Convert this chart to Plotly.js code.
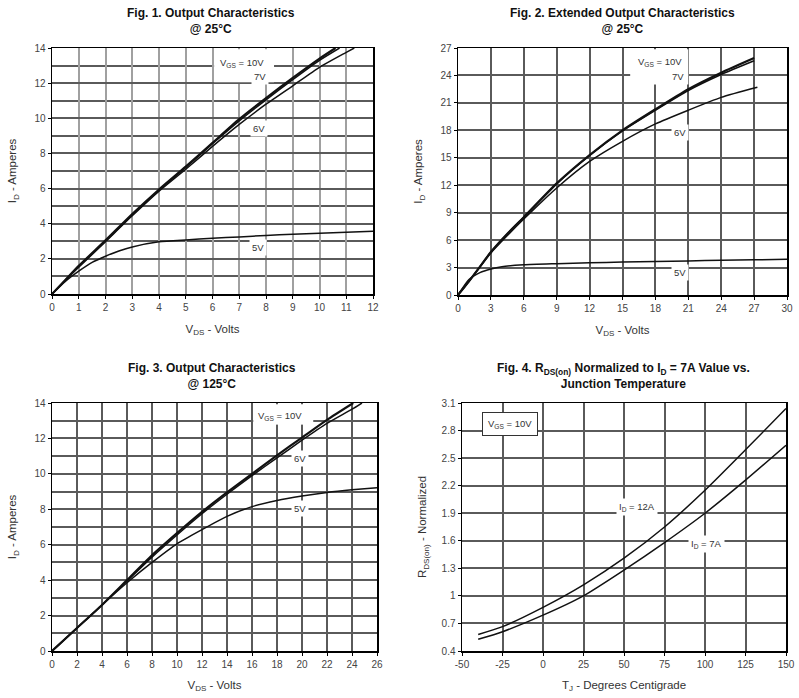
<!DOCTYPE html>
<html>
<head>
<meta charset="utf-8">
<script src="https://cdn.plot.ly/plotly-3.0.1.min.js"></script>
<style>html,body{margin:0;padding:0;background:#fff}#chart{width:799px;height:698px}</style>
</head>
<body>
<div id="chart"></div>
<script>
// ---------- Data ----------
// Fig 1: Output characteristics @25C (VDS 0..12 V)
const f1_vds_10V = [0,0.5,1,2,3,4,5,6,7,8,9,10,10.6];
const f1_id_10V  = [0,0.8,1.6,3.05,4.55,5.95,7.25,8.6,9.95,11.15,12.3,13.4,14];
const f1_vds_7V  = [0,0.5,1,2,3,4,5,6,7,8,9,10,10.75];
const f1_id_7V   = [0,0.8,1.58,3.02,4.5,5.9,7.2,8.55,9.85,11.05,12.2,13.3,14];
const f1_vds_6V  = [0,0.5,1,2,3,4,5,6,7,8,9,10,11,11.3];
const f1_id_6V   = [0,0.78,1.52,2.98,4.45,5.85,7.1,8.4,9.65,10.8,11.85,12.9,13.75,14];
const f1_vds_5V  = [0,0.5,1,1.5,2,2.5,3,4,5,6,7,8,9,10,11,12];
const f1_id_5V   = [0,0.72,1.3,1.8,2.15,2.45,2.68,2.97,3.08,3.17,3.25,3.33,3.4,3.46,3.52,3.57];

// Fig 2: Extended output characteristics @25C (VDS 0..30 V)
const f2_vds_10V = [0,1,2,3,4.5,6,9,12,15,18,21,24,27];
const f2_id_10V  = [0,1.5,3.1,4.7,6.7,8.5,12.2,15.3,18.0,20.3,22.5,24.3,25.9];
const f2_vds_7V  = [0,1,2,3,4.5,6,9,12,15,18,21,24,27];
const f2_id_7V   = [0,1.5,3.1,4.7,6.7,8.5,12.15,15.25,17.95,20.2,22.35,24.1,25.6];
const f2_vds_6V  = [0,1,2,3,4.5,6,9,12,15,18,21,24,27.3];
const f2_id_6V   = [0,1.5,3.05,4.6,6.5,8.3,11.7,14.6,16.8,18.7,20.2,21.6,22.7];
const f2_vds_5V  = [0,1,2,3,4,6,9,12,15,18,21,24,27,30];
const f2_id_5V   = [0,1.7,2.45,2.85,3.1,3.3,3.42,3.52,3.6,3.67,3.73,3.8,3.85,3.9];

// Fig 3: Output characteristics @125C (VDS 0..26 V)
const f3_vds_10V = [0,2,4,6,8,10,12,14,16,18,20,22,24.1];
const f3_id_10V  = [0,1.3,2.6,4.0,5.4,6.65,7.85,8.95,10.0,11.05,12.05,13.05,14];
const f3_vds_6V  = [0,2,4,6,8,10,12,14,16,18,20,22,24,24.8];
const f3_id_6V   = [0,1.3,2.6,3.95,5.3,6.55,7.75,8.85,9.9,10.9,11.9,12.85,13.65,14];
const f3_vds_5V  = [0,2,4,6,8,10,12,14,16,18,20,22,24,26];
const f3_id_5V   = [0,1.3,2.6,3.85,5.0,6.05,6.85,7.6,8.15,8.5,8.75,8.95,9.1,9.22];

// Fig 4: RDS(on) normalized vs junction temperature
const f4_tj      = [-40,-25,0,25,50,75,100,125,150];
const f4_r_12A   = [0.58,0.665,0.875,1.12,1.41,1.75,2.15,2.59,3.04];
const f4_r_7A    = [0.527,0.61,0.79,1.0,1.28,1.58,1.9,2.26,2.64];

// Tick labels for Fig 4 x axis (plain hyphen minus, as in the reference)
const f4_tick_vals = [-50,-25,0,25,50,75,100,125,150];
const f4_tick_text = ['-50','-25','0','25','50','75','100','125','150'];

// Labels
const titles = [
  'Fig. 1. Output Characteristics<br>@ 25°C',
  'Fig. 2. Extended Output Characteristics<br>@ 25°C',
  'Fig. 3. Output Characteristics<br>@ 125°C',
  'Fig. 4. R<sub>DS(on)</sub> Normalized to I<sub>D</sub> = 7A Value vs.<br>Junction Temperature'
];
const xTitleVds = 'V<sub>DS</sub> - Volts';
const yTitleId = 'I<sub>D</sub> - Amperes';
const xTitleTj = 'T<sub>J</sub> - Degrees Centigrade';
const yTitleR = 'R<sub>DS(on)</sub> - Normalized';

// ---------- Layout helpers ----------
const W = 799, H = 698;
const px = v => v / W;
const py = v => 1 - v / H;
const FONT = 'Liberation Sans, Arial, sans-serif';

function line(x, y, xa, ya, w) {
  return {x, y, xaxis: xa, yaxis: ya, type: 'scatter', mode: 'lines',
    line: {color: '#111', width: w || 1.5, shape: 'spline', smoothing: 0.6},
    hoverinfo: 'skip', showlegend: false};
}

const traces = [
  line(f1_vds_5V, f1_id_5V, 'x', 'y'),
  line(f1_vds_6V, f1_id_6V, 'x', 'y'),
  line(f1_vds_7V, f1_id_7V, 'x', 'y'),
  line(f1_vds_10V, f1_id_10V, 'x', 'y', 2.2),
  line(f2_vds_5V, f2_id_5V, 'x2', 'y2'),
  line(f2_vds_6V, f2_id_6V, 'x2', 'y2'),
  line(f2_vds_7V, f2_id_7V, 'x2', 'y2'),
  line(f2_vds_10V, f2_id_10V, 'x2', 'y2', 2.2),
  line(f3_vds_5V, f3_id_5V, 'x3', 'y3'),
  line(f3_vds_6V, f3_id_6V, 'x3', 'y3'),
  line(f3_vds_10V, f3_id_10V, 'x3', 'y3', 2.2),
  line(f4_tj, f4_r_12A, 'x4', 'y4'),
  line(f4_tj, f4_r_7A, 'x4', 'y4')
];

const gridColor = '#5a5a5a';
function axis(opts) {
  return Object.assign({
    showgrid: true, gridcolor: gridColor, gridwidth: 2,
    showline: true, linecolor: '#000', linewidth: 1.5, mirror: true,
    ticks: 'outside', ticklen: 3, tickcolor: '#000', tickwidth: 1,
    zeroline: false, fixedrange: true,
    tickfont: {family: FONT, size: 10, color: '#444'}
  }, opts);
}
function xt(text, s) { return {text, font: {family: FONT, size: 11.5, color: '#333'}, standoff: s}; }

const layout = {
  width: W, height: H,
  margin: {l: 0, r: 0, t: 0, b: 0},
  paper_bgcolor: '#fff', plot_bgcolor: '#fff',
  showlegend: false,
  xaxis: axis({domain: [px(52), px(373)], anchor: 'y', range: [0, 12], dtick: 1, tick0: 0, gridcolor: '#a0a0a0', title: xt(xTitleVds, 13)}),
  yaxis: axis({domain: [py(294), py(48)], anchor: 'x', range: [0, 14], dtick: 2, tick0: 0,
    minor: {dtick: 1, showgrid: true, gridcolor: gridColor, gridwidth: 2}, title: xt(yTitleId, 15)}),
  xaxis2: axis({domain: [px(458), px(787)], anchor: 'y2', range: [0, 30], dtick: 3, tick0: 0, title: xt(xTitleVds, 13)}),
  yaxis2: axis({domain: [py(295), py(48)], anchor: 'x2', range: [0, 27], dtick: 3, tick0: 0, title: xt(yTitleId, 15)}),
  xaxis3: axis({domain: [px(52), px(377)], anchor: 'y3', range: [0, 26], dtick: 2, tick0: 0, title: xt(xTitleVds, 12)}),
  yaxis3: axis({domain: [py(651), py(403)], anchor: 'x3', range: [0, 14], dtick: 2, tick0: 0,
    minor: {dtick: 1, showgrid: true, gridcolor: gridColor, gridwidth: 2}, title: xt(yTitleId, 15)}),
  xaxis4: axis({domain: [px(462), px(786)], anchor: 'y4', range: [-50, 150], tickmode: 'array',
    tickvals: f4_tick_vals, ticktext: f4_tick_text, title: xt(xTitleTj, 12)}),
  yaxis4: axis({domain: [py(651), py(403)], anchor: 'x4', range: [0.4, 3.1], dtick: 0.3, tick0: 0.4, title: xt(yTitleR, 12)}),
  shapes: [
    {type: 'rect', xref: 'x', yref: 'y', x0: 6.06, x1: 8.3, y0: 12.05, y1: 13.93, layer: 'between', fillcolor: '#fff', line: {width: 0}},
    {type: 'rect', xref: 'x2', yref: 'y2', x0: 15.7, x1: 21.0, y0: 23.0, y1: 26.85, layer: 'between', fillcolor: '#fff', line: {width: 0}},
    {type: 'rect', xref: 'x3', yref: 'y3', x0: 16.1, x1: 20.9, y0: 12.8, y1: 13.93, layer: 'between', fillcolor: '#fff', line: {width: 0}}
  ],
  annotations: []
};

const titleFont = {family: FONT, size: 12, color: '#111'};
const titlePos = [[211, 21], [622, 21], [212, 376], [623, 376]];
titles.forEach((t, i) => {
  layout.annotations.push({text: '<b>' + t + '</b>', xref: 'paper', yref: 'paper',
    x: px(titlePos[i][0]), y: py(titlePos[i][1]), xanchor: 'center', yanchor: 'middle',
    showarrow: false, font: titleFont, align: 'center'});
});

const lblFont = {family: FONT, size: 9.5, color: '#333'};
function lbl(text, xref, yref, x, y, extra) {
  return Object.assign({text, xref, yref, x, y, showarrow: false, font: lblFont,
    bgcolor: '#fff', borderpad: 2, xanchor: 'center', yanchor: 'middle'}, extra || {});
}
layout.annotations.push(
  lbl('V<sub>GS</sub> = 10V', 'x', 'y', 7.1, 13.15),
  lbl('7V', 'x', 'y', 7.78, 12.4),
  lbl('6V', 'x', 'y', 7.74, 9.4),
  lbl('5V', 'x', 'y', 7.7, 2.62),
  lbl('V<sub>GS</sub> = 10V', 'x2', 'y2', 18.4, 25.5),
  lbl('7V', 'x2', 'y2', 20.06, 23.9),
  lbl('6V', 'x2', 'y2', 20.2, 17.75),
  lbl('5V', 'x2', 'y2', 20.2, 2.44),
  lbl('V<sub>GS</sub> = 10V', 'x3', 'y3', 18.27, 13.25),
  lbl('6V', 'x3', 'y3', 19.8, 10.85),
  lbl('5V', 'x3', 'y3', 19.8, 8.06),
  lbl('I<sub>D</sub> = 12A', 'x4', 'y4', 58.3, 1.97),
  lbl('I<sub>D</sub> = 7A', 'x4', 'y4', 101, 1.56),
  lbl('V<sub>GS</sub> = 10V', 'x4', 'y4', -20.4, 2.866, {bordercolor: '#333', borderwidth: 1, borderpad: 5})
);

Plotly.newPlot('chart', traces, layout, {displayModeBar: false, staticPlot: true});
</script>
</body>
</html>
